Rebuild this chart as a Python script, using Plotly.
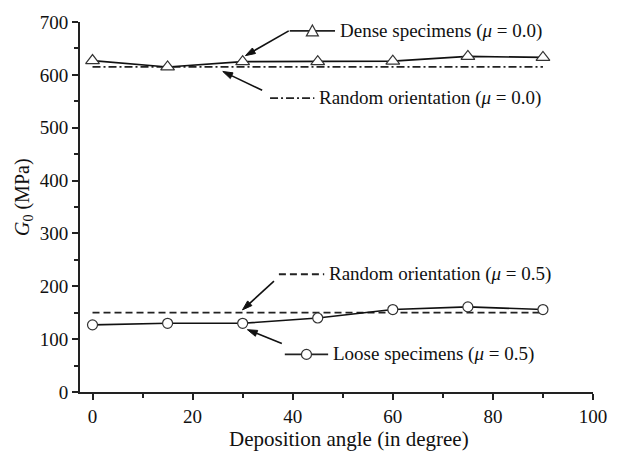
import math
import plotly.graph_objects as go

angles = [0, 15, 30, 45, 60, 75, 90]
dense_g0 = [627, 615, 625, 625, 626, 635, 633]
loose_g0 = [127, 130, 130, 140, 156, 161, 156]
random_mu00 = [615] * len(angles)
random_mu05 = [150] * len(angles)

FONT = "Liberation Serif"
W, H = 619, 456
L, R, T, B = 80, 601, 18, 392  # plot area in pixels


def px(x):
    return (x - L) / (R - L)


def py(y):
    return (B - y) / (B - T)


fig = go.Figure()
fig.add_trace(go.Scatter(x=angles, y=random_mu00, mode="lines",
                         line=dict(color="#222", width=1.8, dash="8px,3px,2px,3px"),
                         showlegend=False))
fig.add_trace(go.Scatter(x=angles, y=random_mu05, mode="lines",
                         line=dict(color="#222", width=1.8, dash="7px,4px"),
                         showlegend=False))
fig.add_trace(go.Scatter(x=angles, y=dense_g0, mode="lines+markers",
                         line=dict(color="#111", width=1.6),
                         marker=dict(symbol="triangle-up", size=12, color="white",
                                     line=dict(color="#333", width=1.2)),
                         showlegend=False))
fig.add_trace(go.Scatter(x=angles, y=loose_g0, mode="lines+markers",
                         line=dict(color="#111", width=1.6),
                         marker=dict(symbol="circle", size=10, color="white",
                                     line=dict(color="#333", width=1.2)),
                         showlegend=False))

shapes = []
annotations = []


def sample(x0, x1, y, dash):
    shapes.append(dict(type="line", xref="paper", yref="paper",
                       x0=px(x0), x1=px(x1), y0=py(y), y1=py(y),
                       line=dict(color="#222", width=1.8, dash=dash)))


def label(x, y, text):
    annotations.append(dict(xref="paper", yref="paper", x=px(x), y=py(y),
                            xanchor="left", yanchor="middle", showarrow=False,
                            text=text, font=dict(family=FONT, size=19, color="#111")))


def arrow(hx, hy, tx, ty):
    # shaft
    dx, dy = hx - tx, hy - ty
    d = math.hypot(dx, dy)
    ux, uy = dx / d, dy / d
    hl, hw = 10.0, 3.2
    bx, by = hx - ux * hl, hy - uy * hl
    shapes.append(dict(type="line", xref="paper", yref="paper",
                       x0=px(tx), y0=py(ty), x1=px(bx + ux * 2), y1=py(by + uy * 2),
                       line=dict(color="#111", width=1.6)))
    # head
    nx, ny = -uy, ux
    p1 = (bx + nx * hw, by + ny * hw)
    p2 = (bx - nx * hw, by - ny * hw)
    path = "M {:.5f},{:.5f} L {:.5f},{:.5f} L {:.5f},{:.5f} Z".format(
        px(hx), py(hy), px(p1[0]), py(p1[1]), px(p2[0]), py(p2[1]))
    shapes.append(dict(type="path", xref="paper", yref="paper", path=path,
                       fillcolor="#111", line=dict(color="#111", width=1)))


# Dense specimens
sample(293, 339, 27, "solid")
shapes.append(dict(type="path", xref="paper", yref="paper",
                   xsizemode="pixel", ysizemode="pixel",
                   xanchor=px(316), yanchor=py(27),
                   path="M -6,-5 L 6,-5 L 0,6 Z",
                   fillcolor="white", line=dict(color="#333", width=1.2)))
label(342, 27, "Dense specimens (<i>μ</i> = 0.0)")
arrow(248, 52, 292, 27)

# Random orientation mu=0.0
sample(273, 318, 95, "8px,3px,2px,3px")
label(321, 95, "Random orientation (<i>μ</i> = 0.0)")
arrow(225, 68, 265, 87)

# Random orientation mu=0.5
sample(282, 328, 273, "7px,4px")
label(331, 273, "Random orientation (<i>μ</i> = 0.5)")
arrow(245, 309, 277, 280)

# Loose specimens
sample(288, 332, 354, "solid")
shapes.append(dict(type="circle", xref="paper", yref="paper",
                   xsizemode="pixel", ysizemode="pixel",
                   xanchor=px(310), yanchor=py(354),
                   x0=-5, x1=5, y0=-5, y1=5,
                   fillcolor="white", line=dict(color="#333", width=1.2)))
label(335, 354, "Loose specimens (<i>μ</i> = 0.5)")
arrow(250, 329, 285, 343)

# axis titles
annotations.append(dict(xref="paper", yref="paper", x=px(353), y=py(440),
                        xanchor="center", yanchor="middle", showarrow=False,
                        text="Deposition angle (in degree)",
                        font=dict(family=FONT, size=21, color="#111")))
annotations.append(dict(xref="paper", yref="paper", x=px(22), y=py(195),
                        xanchor="center", yanchor="middle", showarrow=False,
                        textangle=-90,
                        text="<i>G</i><sub>0</sub> (MPa)",
                        font=dict(family=FONT, size=20, color="#111")))

axis_common = dict(showgrid=False, zeroline=False, showline=True,
                   linecolor="#222", linewidth=2, ticks="outside",
                   tickcolor="#222", tickwidth=2, ticklen=6,
                   tickfont=dict(family=FONT, size=19, color="#111"),
                   mirror=False)

fig.update_layout(
    width=W, height=H,
    margin=dict(l=L, r=W - R, t=T, b=H - B),
    paper_bgcolor="white", plot_bgcolor="white",
    shapes=shapes, annotations=annotations,
    xaxis=dict(range=[-2.5, 100], tickmode="array",
               tickvals=[0, 20, 40, 60, 80, 100],
               minor=dict(ticks="outside", tickvals=[10, 30, 50, 70, 90],
                          ticklen=4, tickwidth=2, tickcolor="#222"),
               **axis_common),
    yaxis=dict(range=[0, 700], tickmode="array",
               tickvals=[0, 100, 200, 300, 400, 500, 600, 700],
               minor=dict(ticks="outside", tickvals=[50, 150, 250, 350, 450, 550, 650],
                          ticklen=4, tickwidth=2, tickcolor="#222"),
               **axis_common),
)

fig.write_html("out.html")
